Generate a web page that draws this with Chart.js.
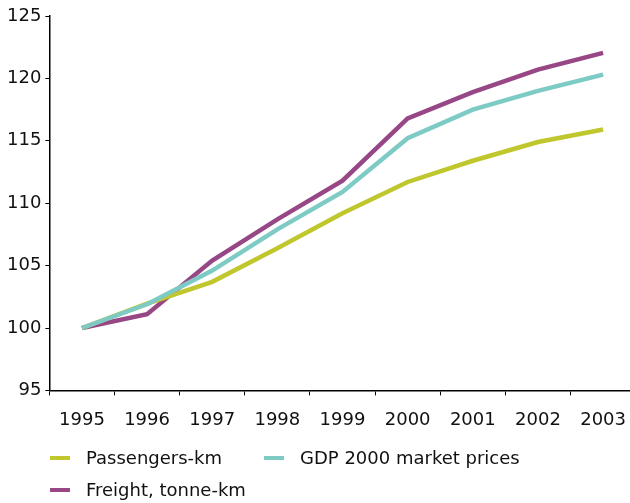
<!DOCTYPE html>
<html>
<head>
<meta charset="utf-8">
<script src="https://cdn.jsdelivr.net/npm/chart.js@4"></script>
<style>
    body { margin: 0; background: #fff; overflow: hidden; font-family: "DejaVu Sans", Verdana, sans-serif; }
    #wrap { position: relative; width: 630px; height: 503px; overflow: hidden; }
    /* canvas is a bit wider than the page: the plot area runs past the right edge in the original */
    #chartBox { position: absolute; left: 0; top: 0; width: 640px; height: 446px; }
    #legend { position: absolute; left: 0; top: 444px; width: 630px; font-size: 18px; color: #111; }
    .item { position: absolute; height: 28px; line-height: 28px; white-space: nowrap; }
    .swatch { position: absolute; top: 12px; width: 20px; height: 4px; }
    .label { position: absolute; left: 36px; top: 0; }
</style>
</head>
<body>
<div id="wrap">
    <div id="chartBox"><canvas id="chart"></canvas></div>
    <div id="legend"></div>
</div>
<script>
// ====================================
// DATA
// ====================================
const years = ['1995', '1996', '1997', '1998', '1999', '2000', '2001', '2002', '2003'];

const passengers = [100, 101.95, 103.7, 106.4, 109.2, 111.7, 113.4, 114.9, 115.9];
const gdp        = [100, 101.9, 104.6, 107.9, 110.9, 115.2, 117.5, 119.0, 120.3];
const freight    = [100, 101.1, 105.4, 108.7, 111.8, 116.8, 118.9, 120.7, 122.05];

const yMin = 95;
const yMax = 125;
const yStep = 5;

const seriesNames  = ['Passengers-km', 'GDP 2000 market prices', 'Freight, tonne-km'];
const seriesColors = ['#bfc72d', '#7ecbc6', '#974786'];

// legend slots (two per row, like the original)
const legendSlots = [
    { left: 50, top: 0 },
    { left: 264, top: 0 },
    { left: 50, top: 32 }
];

document.addEventListener('DOMContentLoaded', function() {
    const fontFamily = '"DejaVu Sans", Verdana, sans-serif';
    const seriesData = [passengers, gdp, freight];

    const datasets = seriesData.map((values, i) => ({
        label: seriesNames[i],
        data: values,
        borderColor: seriesColors[i],
        backgroundColor: seriesColors[i],
        borderWidth: 4.5,
        pointRadius: 0,
        tension: 0,
        fill: false,
        order: i === 1 ? -1 : 0
    }));

    new Chart(document.getElementById('chart'), {
        type: 'line',
        data: {
            labels: years,
            datasets: datasets
        },
        options: {
            responsive: true,
            maintainAspectRatio: false,
            animation: false,
            layout: {
                padding: { left: 3, right: 0, top: 16, bottom: 1 }
            },
            plugins: {
                legend: { display: false },
                tooltip: { enabled: false }
            },
            scales: {
                x: {
                    type: 'category',
                    offset: true,
                    grid: {
                        offset: true,
                        drawOnChartArea: false,
                        drawTicks: true,
                        tickLength: 5,
                        color: '#000'
                    },
                    border: { display: true, color: '#000', width: 1.5 },
                    ticks: {
                        color: '#111',
                        padding: 14,
                        maxRotation: 0,
                        autoSkip: false,
                        font: { family: fontFamily, size: 18 }
                    }
                },
                y: {
                    min: yMin,
                    max: yMax,
                    grid: {
                        drawOnChartArea: false,
                        drawTicks: true,
                        tickLength: 4,
                        color: '#000'
                    },
                    border: { display: true, color: '#000', width: 1.5 },
                    ticks: {
                        stepSize: yStep,
                        color: '#111',
                        padding: 4,
                        font: { family: fontFamily, size: 18 }
                    }
                }
            }
        }
    });

    // HTML legend
    const legend = document.getElementById('legend');
    legend.innerHTML = seriesNames.map((name, i) => `
        <div class="item" style="left:${legendSlots[i].left}px; top:${legendSlots[i].top}px;">
            <span class="swatch" style="background:${seriesColors[i]}"></span>
            <span class="label">${name}</span>
        </div>
    `).join('');
});
</script>
</body>
</html>
